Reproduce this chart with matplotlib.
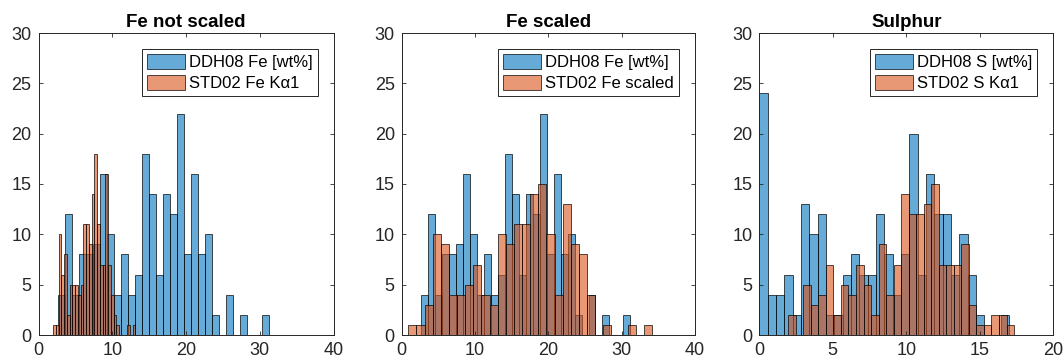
import numpy as np
import matplotlib
matplotlib.use("Agg")
import matplotlib.pyplot as plt

plt.rcParams["font.family"] = ["Liberation Sans", "DejaVu Sans"]

# Histogram counts per bin (30 equal-width bins per series)
fe_wt_start, fe_wt_width = 2.63, 0.952
fe_wt_counts = [4, 12, 4, 8, 8, 9, 16, 10, 4, 8, 4, 6, 18, 14, 6, 14, 12, 22,
                8, 16, 8, 10, 2, 0, 4, 0, 2, 0, 0, 2]

fe_ka_start, fe_ka_width = 1.99, 0.372
fe_ka_counts = [1, 1, 10, 6, 8, 2, 5, 5, 5, 4, 5, 11, 11, 9, 14, 18, 11, 7,
                7, 16, 7, 4, 2, 1, 0, 0, 0, 1, 0, 1]

fe_sc_start, fe_sc_width = 0.905, 1.108
fe_sc_counts = [1, 1, 3, 10, 9, 4, 4, 5, 7, 4, 3, 10, 9, 11, 11, 14, 15, 10,
                4, 13, 9, 8, 4, 0, 1, 0, 0, 1, 0, 1]

s_wt_start, s_wt_width = 0.0, 0.567
s_wt_counts = [24, 4, 4, 6, 2, 13, 10, 12, 2, 2, 6, 8, 6, 6, 12, 8, 4, 8,
               20, 6, 16, 12, 12, 6, 10, 6, 2, 0, 0, 2]

s_ka_start, s_ka_width = 1.97, 0.512
s_ka_counts = [2, 0, 5, 3, 4, 7, 2, 5, 4, 7, 5, 2, 9, 4, 7, 14, 12, 12, 13,
               15, 7, 7, 7, 9, 3, 1, 1, 2, 2, 1]

titles = ["Fe not scaled", "Fe scaled", "Sulphur"]
legend_labels = [
    ["DDH08 Fe [wt%]", "STD02 Fe K\u03b11"],
    ["DDH08 Fe [wt%]", "STD02 Fe scaled"],
    ["DDH08 S [wt%]", "STD02 S K\u03b11"],
]
x_ticks = [[0, 10, 20, 30, 40], [0, 10, 20, 30, 40], [0, 5, 10, 15, 20]]
y_ticks = [0, 5, 10, 15, 20, 25, 30]

panels = [
    ((fe_wt_start, fe_wt_width, fe_wt_counts), (fe_ka_start, fe_ka_width, fe_ka_counts)),
    ((fe_wt_start, fe_wt_width, fe_wt_counts), (fe_sc_start, fe_sc_width, fe_sc_counts)),
    ((s_wt_start, s_wt_width, s_wt_counts), (s_ka_start, s_ka_width, s_ka_counts)),
]

blue = (0.0, 0.447, 0.741, 0.6)
orange = (0.85, 0.325, 0.098, 0.6)
axis_gray = "#262626"

W, H = 1064, 362
fig = plt.figure(figsize=(W / 100, H / 100), dpi=100)
lefts = [38.5, 401.7, 759.3]
widths = [295.0, 293.3, 294.0]
top_px, bottom_px = 33.0, 335.0

for i, (series_a, series_b) in enumerate(panels):
    ax = fig.add_axes([lefts[i] / W, (H - bottom_px) / H, widths[i] / W,
                       (bottom_px - top_px) / H])
    handles = []
    for (start, width, counts), color in ((series_a, blue), (series_b, orange)):
        counts = np.asarray(counts)
        edges = start + width * np.arange(len(counts) + 1)
        h = ax.bar(edges[:-1], counts, width=width, align="edge",
                   facecolor=color, edgecolor=(0, 0, 0, 0.8), linewidth=0.6)
        handles.append(h)
    ax.set_xlim(x_ticks[i][0], x_ticks[i][-1])
    ax.set_ylim(0, 30)
    ax.set_xticks(x_ticks[i])
    ax.set_yticks(y_ticks)
    ax.tick_params(direction="in", length=3, width=0.6, colors=axis_gray,
                   labelsize=13, top=True, right=True, pad=5)
    for sp in ax.spines.values():
        sp.set_color(axis_gray)
        sp.set_linewidth(0.7)
    ax.set_title(titles[i], fontsize=13.5, fontweight="bold", pad=4)
    leg = ax.legend(handles, legend_labels[i], loc="upper right", fontsize=12,
                    fancybox=False, framealpha=1, edgecolor=axis_gray,
                    handlelength=2.3, handleheight=1.0, handletextpad=0.25,
                    labelspacing=0.3, borderpad=0.3, borderaxespad=0.95)
    leg.get_frame().set_linewidth(0.7)

fig.savefig("out.png", dpi=100, facecolor="white")
